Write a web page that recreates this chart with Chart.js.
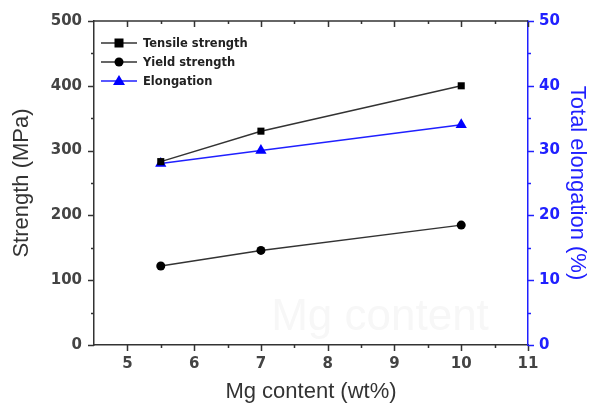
<!DOCTYPE html>
<html>
<head>
<meta charset="utf-8">
<script src="https://cdn.jsdelivr.net/npm/chart.js@4"></script>
<style>
  html, body { margin: 0; padding: 0; background: #fff; }
  #wrap { width: 590px; height: 411px; position: relative; }
</style>
</head>
<body>
<div id="wrap"><canvas id="mgChart"></canvas></div>
<script>
// values
const mgContent = [5.5, 7, 10];
const tensile = [283, 330, 400];
const yieldStr = [122, 146, 185];
const elongation = [28, 30, 34];

const xTicks = [5, 6, 7, 8, 9, 10, 11];
const yTicks = [0, 100, 200, 300, 400, 500];
const y1Ticks = [0, 10, 20, 30, 40, 50];

const labelFont = { family: 'DejaVu Sans', size: 15, weight: 'bold' };
const titleFont = { family: 'Liberation Sans', size: 22 };
const blue = '#2020ff';
const dark = '#333333';

function toPoints(xs, ys) {
    return xs.map((x, i) => ({ x: x, y: ys[i] }));
}

// ticks (major + minor), top frame, faint watermark
const frameTicks = {
    id: 'frameTicks',
    beforeDatasetsDraw(chart) {
        const ctx = chart.ctx;
        ctx.save();
        ctx.font = '44px Liberation Sans';
        ctx.fillStyle = '#f7f7f7';
        ctx.textAlign = 'center';
        ctx.textBaseline = 'middle';
        ctx.fillText('Mg content', 380, 318);
        ctx.restore();
    },
    afterDraw(chart) {
        const ctx = chart.ctx;
        const a = chart.chartArea;
        const sx = chart.scales.x, sy = chart.scales.y, sy1 = chart.scales.y1;
        ctx.save();
        ctx.lineWidth = 1.5;
        ctx.strokeStyle = dark;
        ctx.beginPath();
        ctx.moveTo(a.left, a.top);
        ctx.lineTo(a.right, a.top);
        ctx.stroke();
        // x ticks bottom (out) and top (in)
        for (let v = 5; v <= 11; v += 0.5) {
            const px = Math.round(sx.getPixelForValue(v)) + 0.5;
            const len = Number.isInteger(v) ? 6 : 3;
            ctx.beginPath();
            ctx.moveTo(px, a.bottom);
            ctx.lineTo(px, a.bottom + len);
            ctx.moveTo(px, a.top);
            ctx.lineTo(px, a.top + len);
            ctx.stroke();
        }
        // left ticks
        for (let v = 0; v <= 500; v += 50) {
            const py = Math.round(sy.getPixelForValue(v)) + 0.5;
            const len = v % 100 === 0 ? 6 : 3;
            ctx.beginPath();
            ctx.moveTo(a.left, py);
            ctx.lineTo(a.left - len, py);
            ctx.stroke();
        }
        // right ticks
        ctx.strokeStyle = blue;
        for (let v = 0; v <= 50; v += 5) {
            const py = Math.round(sy1.getPixelForValue(v)) + 0.5;
            const len = v % 10 === 0 ? 6 : 3;
            ctx.beginPath();
            ctx.moveTo(a.right, py);
            ctx.lineTo(a.right + len, py);
            ctx.stroke();
        }
        ctx.restore();
    }
};

// legend: line - marker - line
const originLegend = {
    id: 'originLegend',
    afterDraw(chart) {
        const ctx = chart.ctx;
        const items = chart.data.datasets;
        ctx.save();
        ctx.font = 'bold 11.5px DejaVu Sans';
        ctx.textBaseline = 'middle';
        items.forEach((ds, i) => {
            const y = 43 + i * 19;
            ctx.strokeStyle = ds.borderColor;
            ctx.lineWidth = 1.5;
            ctx.beginPath();
            ctx.moveTo(101, y);
            ctx.lineTo(137, y);
            ctx.stroke();
            ctx.fillStyle = ds.backgroundColor;
            const cx = 119;
            ctx.beginPath();
            if (ds.pointStyle === 'rect') {
                ctx.rect(cx - 4.5, y - 4.5, 9, 9);
            } else if (ds.pointStyle === 'circle') {
                ctx.arc(cx, y, 4.5, 0, Math.PI * 2);
            } else {
                ctx.moveTo(cx, y - 6);
                ctx.lineTo(cx + 6, y + 4);
                ctx.lineTo(cx - 6, y + 4);
                ctx.closePath();
            }
            ctx.fill();
            ctx.fillStyle = '#222';
            ctx.fillText(ds.label, 143, y + 1);
        });
        ctx.restore();
    }
};

new Chart(document.getElementById('mgChart'), {
    type: 'line',
    data: {
        datasets: [{
            label: 'Tensile strength',
            data: toPoints(mgContent, tensile),
            yAxisID: 'y',
            borderColor: dark,
            backgroundColor: '#000',
            pointBorderWidth: 0,
            pointStyle: 'rect',
            pointRadius: 5,
            borderWidth: 1.5,
        }, {
            label: 'Yield strength',
            data: toPoints(mgContent, yieldStr),
            yAxisID: 'y',
            borderColor: dark,
            backgroundColor: '#000',
            pointBorderWidth: 0,
            pointStyle: 'circle',
            pointRadius: 4.5,
            borderWidth: 1.5,
        }, {
            label: 'Elongation',
            data: toPoints(mgContent, elongation),
            yAxisID: 'y1',
            borderColor: blue,
            backgroundColor: '#0000ff',
            pointBorderWidth: 0,
            pointStyle: 'triangle',
            pointRadius: 6.5,
            borderWidth: 1.5,
        }],
    },
    options: {
        responsive: true,
        maintainAspectRatio: false,
        animation: false,
        layout: { padding: { top: 19, left: 0, right: 0, bottom: 0 } },
        plugins: { legend: { display: false }, tooltip: { enabled: false } },
        scales: {
            x: {
                type: 'linear',
                min: 4.5,
                max: 11,
                afterBuildTicks: (s) => { s.ticks = xTicks.map(v => ({ value: v })); },
                afterFit: (s) => { s.height = 66; },
                grid: { display: false, drawTicks: false },
                border: { display: true, color: dark, width: 1.5 },
                ticks: { font: labelFont, color: '#444', padding: 10, maxRotation: 0 },
                title: { display: true, text: 'Mg content (wt%)', font: titleFont, color: '#333', padding: { top: 0, bottom: 6 } },
            },
            y: {
                position: 'left',
                min: 0,
                max: 500,
                afterBuildTicks: (s) => { s.ticks = yTicks.map(v => ({ value: v })); },
                afterFit: (s) => { s.width = 94; },
                grid: { display: false, drawTicks: false },
                border: { display: true, color: dark, width: 1.5 },
                ticks: { font: labelFont, color: '#444', padding: 12 },
                title: { display: true, text: 'Strength (MPa)', font: titleFont, color: '#333', padding: { top: 9, bottom: 0 } },
            },
            y1: {
                position: 'right',
                min: 0,
                max: 50,
                afterBuildTicks: (s) => { s.ticks = y1Ticks.map(v => ({ value: v })); },
                afterFit: (s) => { s.width = 62; },
                grid: { display: false, drawTicks: false },
                border: { display: true, color: blue, width: 1.5 },
                ticks: { font: labelFont, color: blue, padding: 11 },
                title: { display: true, text: 'Total elongation (%)', font: titleFont, color: blue, padding: { top: 0, bottom: 0 } },
            },
        },
    },
    plugins: [frameTicks, originLegend],
});
</script>
</body>
</html>
